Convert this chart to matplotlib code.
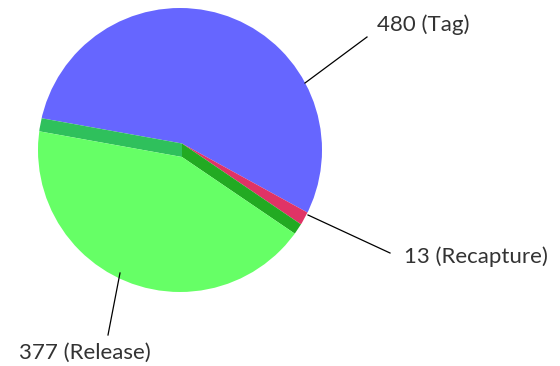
import numpy as np
import matplotlib.pyplot as plt
from matplotlib.patches import Wedge, Polygon, Circle

labels = ['Tag', 'Recapture', 'Release']
values = [480, 13, 377]
colors = ['#6666ff', '#e03366', '#66ff66']
wall_left = '#2fc05c'
wall_right = '#22aa22'

# label layout (pixel coords, y down)
label_pos = [(377, 25), (404, 257), (19, 353)]
leader = [((305, 83), (367, 37)), ((308, 215), (390, 253)), ((120, 273), (108, 335))]

W, H = 560, 366
fig = plt.figure(figsize=(5.6, 3.66), dpi=100)
ax = fig.add_axes([0, 0, 1, 1])
ax.set_xlim(0, W)
ax.set_ylim(0, H)
ax.set_aspect('equal')
ax.axis('off')

def py(y):
    return H - y

clip = Circle((180, py(150)), 142, transform=ax.transData)
top = np.array([182, py(143.5)])
bot = np.array([182, py(157)])
R = 170

fr = np.array(values) / sum(values)
start = 169.8
ends = start - 360 * np.cumsum(fr)
starts = np.concatenate([[start], ends[:-1]])

def d(a):
    return np.array([np.cos(np.radians(a)), np.sin(np.radians(a))])

# top (raised) slices
for i in range(2):
    w = Wedge(top, R, ends[i], starts[i], facecolor=colors[i], edgecolor='none')
    ax.add_patch(w)
    w.set_clip_path(clip)

# side walls of the lowered slice
for a, c in [(starts[2], wall_right), (ends[2], wall_left)]:
    p = Polygon([top, top + R * d(a), bot + R * d(a), bot], closed=True,
                facecolor=c, edgecolor='none')
    ax.add_patch(p)
    p.set_clip_path(clip)

w = Wedge(bot, R, ends[2], starts[2], facecolor=colors[2], edgecolor='none')
ax.add_patch(w)
w.set_clip_path(clip)

for lab, v, (x, y), (p0, p1) in zip(labels, values, label_pos, leader):
    ax.plot([p0[0], p1[0]], [py(p0[1]), py(p1[1])], color='black', lw=0.9)
    ax.text(x, py(y), f'{v} ({lab})', ha='left', va='center', fontsize=16,
            family='Lato', fontweight='normal', color='#333333')

fig.savefig('out.png', dpi=100)
